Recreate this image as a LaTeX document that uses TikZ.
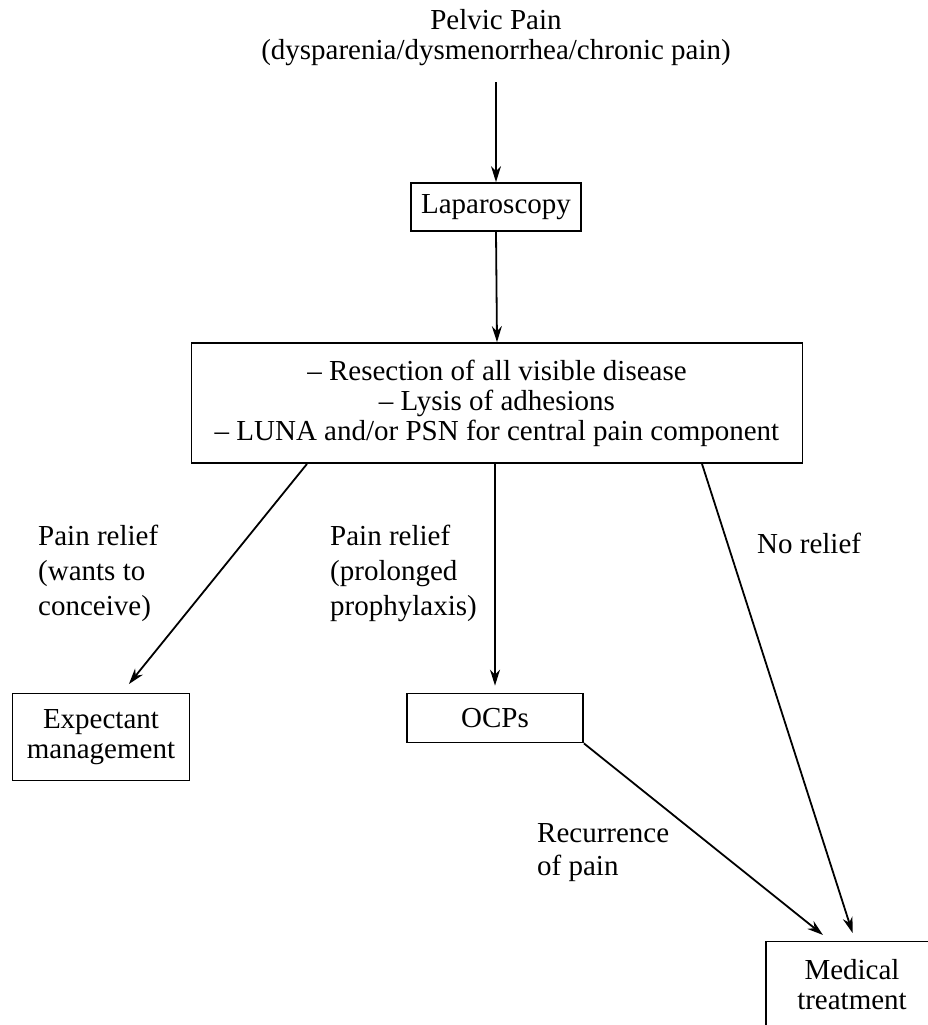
\documentclass[tikz,border=0pt]{standalone}
\usepackage{fontspec}
\setmainfont{Liberation Serif}
\usetikzlibrary{arrows.meta}
\begin{document}
\begin{tikzpicture}[x=1pt,y=-1pt,
  font=\fontsize{29}{30}\selectfont,
  box/.style={draw,line width=1.8pt,inner sep=0pt,align=center},
  lbl/.style={align=left,inner sep=0pt,font=\fontsize{29}{35}\selectfont},
  arr/.style={line width=1.8pt,-{Stealth[length=16pt,width=10pt]}}]
\useasboundingbox (0,0) rectangle (927,1025);

\node[align=center,inner sep=0pt] (pain) at (496,38) {Pelvic Pain\\(dysparenia/dysmenorrhea/chronic pain)};
\node[box,minimum width=170,minimum height=48] (lap) at (496,207) {Laparoscopy};
\node[box,minimum width=611,minimum height=120] (surg) at (497,403) {-- Resection of all visible disease\\-- Lysis of adhesions\\-- LUNA and/or PSN for central pain component};

\node[box,minimum width=177,minimum height=87] (expect) at (101,737) {Expectant\\management};
\node[box,minimum width=176,minimum height=49] (ocp) at (495,718) {OCPs};
\node[box,minimum width=172,minimum height=87] (med) at (852,985) {Medical\\treatment};

\node[lbl,anchor=north west] (wants) at (38,525) {Pain relief\\(wants to\\conceive)};
\node[lbl,anchor=north west] (prolong) at (330,525) {Pain relief\\(prolonged\\prophylaxis)};
\node[lbl,anchor=west] (norelief) at (757,543) {No relief};
\node[lbl,anchor=north west,font=\fontsize{29}{33}\selectfont] (recur) at (537,823) {Recurrence\\of pain};

\draw[arr,shorten <=16pt] (pain.south) -- (lap.north);
\draw[arr] (lap.south) -- (surg.north);
\draw[arr,shorten >=11pt] ([xshift=-190pt]surg.south) -- ([xshift=21pt]expect.north);
\draw[arr,shorten >=7pt] ([xshift=-2pt]surg.south) -- (ocp.north);
\draw[arr,shorten >=8pt] ([xshift=205pt]surg.south) -- ([xshift=3pt]med.north);
\draw[arr,shorten >=9pt] (ocp.south east) -- ([xshift=-22pt]med.north);
\end{tikzpicture}
\end{document}
